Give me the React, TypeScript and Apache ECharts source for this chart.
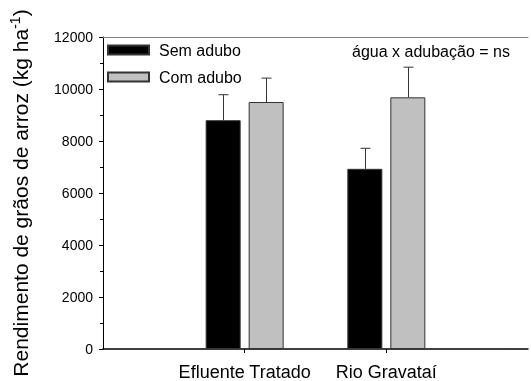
import React, { useEffect, useRef } from "react";
import * as echarts from "echarts";

const categories = ["", "Efluente Tratado", "Rio Gravataí", ""];
const seriesNames = ["Sem adubo", "Com adubo"];
const semAdubo = ["-", 8800, 6930, "-"];
const comAdubo = ["-", 9500, 9680, "-"];
const semAduboErrTop = [null, 9780, 7720, null];
const comAduboErrTop = [null, 10420, 10840, null];
const yTicks = { min: 0, max: 12000, interval: 2000 };

const FONT = "'Liberation Sans', Arial, Helvetica, sans-serif";
const BAR_W = 35;
const BAR_GAP = 8;

function errData(vals: any[], tops: any[]) {
  const out: any[] = [];
  vals.forEach((v, i) => {
    if (v !== "-" && tops[i] != null) out.push([i, v, tops[i]]);
  });
  return out;
}

function makeErr(name: string, data: any[], sign: number) {
  return {
    type: "custom",
    name: name + " err",
    data,
    z: 3,
    silent: true,
    renderItem: (params: any, api: any) => {
      const idx = api.value(0);
      const base = api.coord([idx, api.value(1)]);
      const top = api.coord([idx, api.value(2)]);
      const x = Math.round(base[0] + sign * (BAR_W + BAR_GAP) / 2) + 0.5;
      const cap = 5;
      const style = { stroke: "#333", lineWidth: 1 };
      return {
        type: "group",
        children: [
          { type: "line", shape: { x1: x, y1: base[1], x2: x, y2: top[1] }, style },
          { type: "line", shape: { x1: x - cap, y1: top[1], x2: x + cap, y2: top[1] }, style },
        ],
      };
    },
  };
}

export default function App() {
  const ref = useRef<HTMLDivElement>(null);
  useEffect(() => {
    if (!ref.current) return;
    const chart = echarts.init(ref.current, null, { renderer: "svg" });
    chart.setOption({
      animation: false,
      textStyle: { fontFamily: FONT },
      grid: {
        left: 99,
        right: 0,
        top: 37,
        bottom: 31.5,
        show: false,
      },
      legend: {
        data: seriesNames,
        orient: "vertical",
        left: 107,
        top: 41,
        padding: 0,
        icon: "rect",
        itemWidth: 41,
        itemHeight: 9,
        itemGap: 9,
        textStyle: { fontSize: 16, color: "#000", fontFamily: FONT, lineHeight: 18, padding: [0, 0, 0, 5] },
      },
      graphic: [
        {
          type: "text",
          left: 352,
          top: 43,
          style: { text: "água x adubação = ns", fontSize: 16, fill: "#000", fontFamily: FONT },
        },
      ],
      xAxis: [
        {
          type: "category",
          data: categories,
          boundaryGap: false,
          axisLine: { lineStyle: { color: "#000", width: 1.5 } },
          axisTick: {
            show: true,
            length: 4,
            interval: (i: number) => i === 1 || i === 2,
            lineStyle: { color: "#000" },
          },
          axisLabel: {
            fontSize: 18,
            color: "#000",
            margin: 14,
            interval: 0,
            fontFamily: FONT,
          },
          splitLine: { show: false },
        },
        {
          type: "category",
          data: categories,
          position: "top",
          boundaryGap: false,
          axisLine: { show: true, lineStyle: { color: "#808080", width: 1 } },
          axisTick: { show: false },
          axisLabel: { show: false },
          splitLine: { show: false },
        },
      ],
      yAxis: {
        type: "value",
        min: yTicks.min,
        max: yTicks.max,
        interval: yTicks.interval,
        name: "{a|Rendimento de grãos de arroz (kg ha}{s|-1}{a|)}",
        nameLocation: "middle",
        nameGap: 71,
        nameRotate: 90,
        nameTextStyle: {
          rich: {
            a: { fontSize: 21, color: "#000", fontFamily: FONT },
            s: { fontSize: 14, color: "#000", fontFamily: FONT, verticalAlign: "top", padding: [0, 0, 10, 0] },
          },
        },
        axisLine: { show: true, lineStyle: { color: "#000", width: 1 } },
        axisTick: { show: true, length: 4, lineStyle: { color: "#000" } },
        minorTick: { show: true, splitNumber: 2, length: 3, lineStyle: { color: "#000" } },
        axisLabel: {
          fontSize: 14,
          color: "#000",
          margin: 10,
          fontFamily: FONT,
          formatter: (v: number) => String(v),
        },
        splitLine: { show: false },
      },
      series: [
        {
          name: seriesNames[0],
          type: "bar",
          data: semAdubo,
          barWidth: BAR_W,
          barGap: (BAR_GAP / BAR_W) * 100 + "%",
          itemStyle: { color: "#000", borderColor: "#333", borderWidth: 1 },
          z: 2,
        },
        {
          name: seriesNames[1],
          type: "bar",
          data: comAdubo,
          barWidth: BAR_W,
          barGap: (BAR_GAP / BAR_W) * 100 + "%",
          itemStyle: { color: "#c0c0c0", borderColor: "#333", borderWidth: 1 },
          z: 2,
        },
        makeErr(seriesNames[0], errData(semAdubo, semAduboErrTop), -1),
        makeErr(seriesNames[1], errData(comAdubo, comAduboErrTop), 1),
      ],
    });
    return () => chart.dispose();
  }, []);
  return (
    <div
      ref={ref}
      style={{ position: "fixed", left: 0, top: 0, width: 531, height: 381 }}
    />
  );
}
